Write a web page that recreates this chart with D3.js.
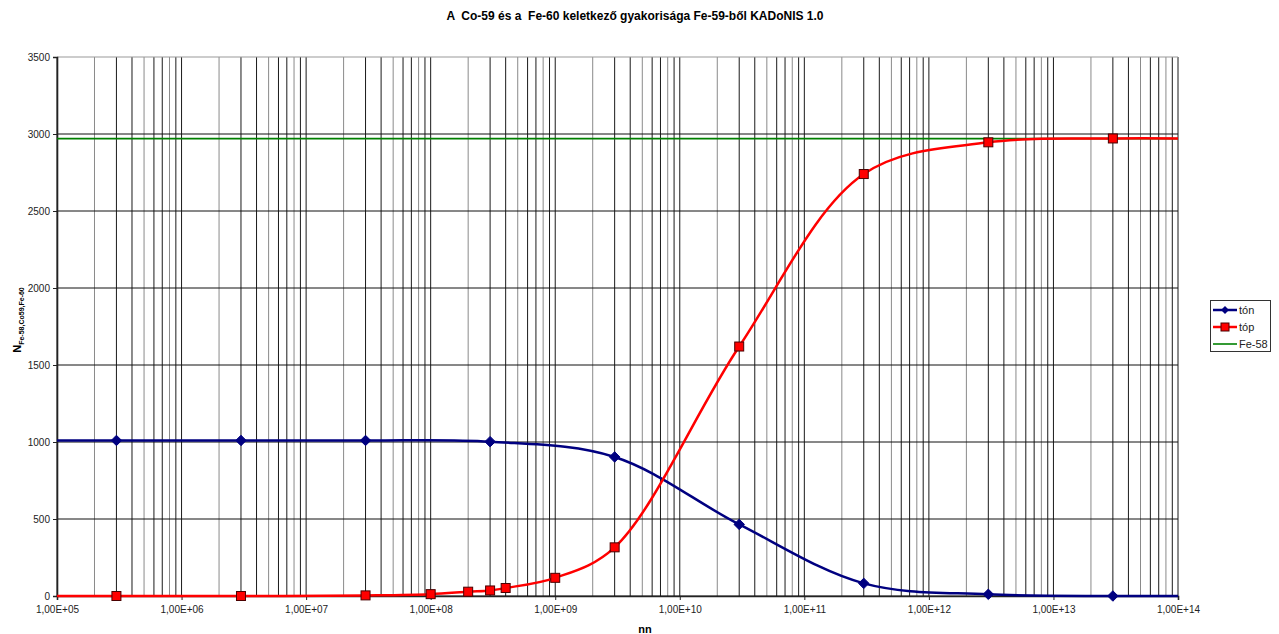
<!DOCTYPE html>
<html><head><meta charset="utf-8">
<script src="https://cdn.jsdelivr.net/npm/d3@7"></script>
<style>body{margin:0;background:#fff;} svg{display:block;font-family:Arial,"Liberation Sans",sans-serif;} text{white-space:pre;}</style>
</head><body>
<svg id="c" width="1279" height="634"></svg>
<script>
const titleText = "A  Co-59 és a  Fe-60 keletkező gyakorisága Fe-59-ből KADoNIS 1.0";
const xDomain = [1e5, 1e14];
const xTickValues = [1e5,1e6,1e7,1e8,1e9,1e10,1e11,1e12,1e13,1e14];
const xTickLabels = ["1,00E+05","1,00E+06","1,00E+07","1,00E+08","1,00E+09","1,00E+10","1,00E+11","1,00E+12","1,00E+13","1,00E+14"];
const yTickValues = [0,500,1000,1500,2000,2500,3000,3500];
const tonX = [3e5,3e6,3e7,3e8,3e9,3e10,3e11,3e12,3e13];
const tonY = [1010,1010,1010,1002,903,465,82,11,0];
const topX = [3e5,3e6,3e7,1e8,2e8,3e8,4e8,1e9,3e9,3e10,3e11,3e12,3e13];
const topY = [0,0,4,12,28,36,52,118,316,1620,2740,2946,2971];
const fe58Y = 2970;
const legendNames = ["tón","tóp","Fe-58"];

const svg = d3.select("#c");
const L=57, R=1178, T=57, B=596;
const x = d3.scaleLog().domain(xDomain).range([L,R]);
const y = d3.scaleLinear().domain([0,3500]).range([B,T]);

const gridX = [];
for (let e=5;e<14;e++) for (let k=1;k<=9;k++) gridX.push(k*Math.pow(10,e));
gridX.push(1e14);
svg.append("g").selectAll("line").data(gridX).join("line")
  .attr("x1",d=>x(d)).attr("x2",d=>x(d)).attr("y1",T).attr("y2",B)
  .attr("stroke",(d,i)=> (i%3===1)?"#8a8a8a":"#1a1a1a").attr("stroke-width",1);
svg.append("g").selectAll("line").data(yTickValues).join("line")
  .attr("x1",L).attr("x2",R).attr("y1",d=>y(d)).attr("y2",d=>y(d))
  .attr("stroke",d=>d===3500?"#999":"#111").attr("stroke-width",1);

const yAxis = d3.axisLeft(y).tickValues(yTickValues).tickSize(4).tickPadding(3).tickFormat(d3.format("d"));
const gy = svg.append("g").attr("transform",`translate(${L},0)`).call(yAxis);
gy.select(".domain").attr("stroke","#222").attr("stroke-width",1.6);
gy.selectAll(".tick line").attr("stroke","#222");
gy.selectAll("text").attr("font-size",10).attr("fill","#222").attr("font-family","Arial, Liberation Sans");

const xAxis = d3.axisBottom(x).tickValues(xTickValues).tickSize(4).tickPadding(6)
  .tickFormat((d,i)=>xTickLabels[i]);
const gx = svg.append("g").attr("transform",`translate(0,${B})`).call(xAxis);
gx.select(".domain").attr("stroke","#222").attr("stroke-width",1.6);
gx.selectAll(".tick line").attr("stroke","#222");
gx.selectAll("text").attr("font-size",10).attr("fill","#222").attr("font-family","Arial, Liberation Sans");

const curve = d3.curveCatmullRom.alpha(0.5);
const line = d3.line().x(d=>x(d[0])).y(d=>y(d[1])).curve(curve);
function extend(xs, ys){
  const pts = xs.map((v,i)=>[v,ys[i]]);
  return [[xDomain[0], ys[0]], ...pts, [xDomain[1], ys[ys.length-1]]];
}
svg.append("path").attr("d", d3.line().x(d=>x(d[0])).y(d=>y(d[1]))([[xDomain[0],fe58Y],[xDomain[1],fe58Y]]))
  .attr("fill","none").attr("stroke","#008000").attr("stroke-width",1.6);
svg.append("path").attr("d", line(extend(tonX,tonY)))
  .attr("fill","none").attr("stroke","#000080").attr("stroke-width",2.5);
svg.append("path").attr("d", line(extend(topX,topY)))
  .attr("fill","none").attr("stroke","#ff0000").attr("stroke-width",2.5);

const diamond = d3.symbol().type(d3.symbolDiamond2).size(70);
svg.append("g").selectAll("path").data(tonX.map((v,i)=>[v,tonY[i]])).join("path")
  .attr("d",diamond).attr("transform",d=>`translate(${x(d[0])},${y(d[1])})`)
  .attr("fill","#000080").attr("stroke","#000080").attr("stroke-width",1);
svg.append("g").selectAll("rect").data(topX.map((v,i)=>[v,topY[i]])).join("rect")
  .attr("x",d=>x(d[0])-4.5).attr("y",d=>y(d[1])-4.5).attr("width",9).attr("height",9)
  .attr("fill","#ff0000").attr("stroke","#4a0000").attr("stroke-width",1);

svg.append("text").attr("x",635).attr("y",20).attr("text-anchor","middle")
  .attr("font-size",12).attr("font-weight","bold").attr("fill","#000").text(titleText);
svg.append("text").attr("x",645).attr("y",633).attr("text-anchor","middle")
  .attr("font-size",11).attr("font-weight","bold").text("nn");
const yt = svg.append("text").attr("transform","translate(21,320) rotate(-90)").attr("text-anchor","middle")
  .attr("font-weight","bold").attr("fill","#000");
yt.append("tspan").attr("font-size",11).text("N");
yt.append("tspan").attr("font-size",7).attr("dy",3).text("Fe-58,Co59,Fe-60");

const lg = svg.append("g");
lg.append("rect").attr("x",1210.5).attr("y",300.5).attr("width",60).attr("height",51)
  .attr("fill","#fff").attr("stroke","#333").attr("stroke-width",1);
const legColors = ["#000080","#ff0000","#008000"];
const legY = [310,327,344];
legendNames.forEach((n,i)=>{
  lg.append("line").attr("x1",1213).attr("x2",1237).attr("y1",legY[i]).attr("y2",legY[i])
    .attr("stroke",legColors[i]).attr("stroke-width",i<2?2.5:1.6);
  if(i===0) lg.append("path").attr("d",d3.symbol().type(d3.symbolDiamond2).size(40)())
      .attr("transform",`translate(1225,${legY[i]})`).attr("fill","#000080");
  if(i===1) lg.append("rect").attr("x",1221).attr("y",legY[i]-4).attr("width",8).attr("height",8)
      .attr("fill","#ff0000").attr("stroke","#4a0000");
  lg.append("text").attr("x",1239).attr("y",legY[i]+4).attr("font-size",11).attr("fill","#222").text(n);
});
</script>
</body></html>
